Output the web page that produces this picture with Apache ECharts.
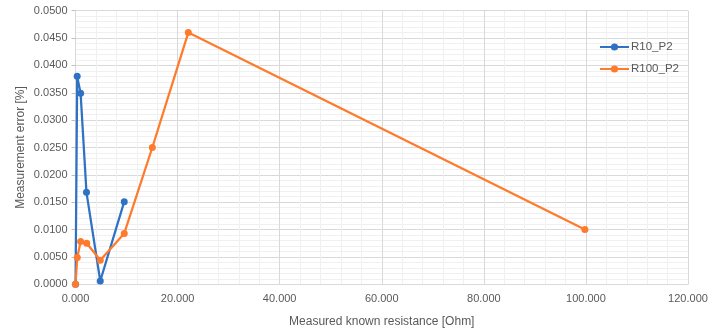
<!DOCTYPE html>
<html>
<head>
<meta charset="utf-8">
<script src="https://cdn.jsdelivr.net/npm/echarts@6/dist/echarts.min.js"></script>
<style>html,body{margin:0;padding:0;background:#fff}#c{width:715px;height:335px}</style>
</head>
<body>
<div id="c"></div>
<script>
const seriesNames = ["R10_P2", "R100_P2"];
const r10X = [10, 330, 1000, 2150, 4850, 9550];
const r10Y = [0.0000, 0.0380, 0.0349, 0.0168, 0.0006, 0.0151];
const r100X = [0, 350, 1000, 2200, 4850, 9550, 15050, 22100, 99800];
const r100Y = [0.0000, 0.0049, 0.0078, 0.0075, 0.0044, 0.0093, 0.0250, 0.0460, 0.0100];
const xAxisName = "Measured known resistance [Ohm]";
const yAxisName = "Measurement error [%]";
const xMin = 0, xMax = 120000, xStep = 20000;
const yMin = 0, yMax = 0.05, yStep = 0.005;

const colors = ["#2F72C4", "#FF7A2A"];
const txt = "#595959";
const font = "Liberation Sans";

const chart = echarts.init(document.getElementById('c'), null, {renderer: 'canvas'});
chart.setOption({
  animation: false,
  color: colors,
  textStyle: {fontFamily: font},
  grid: {left: 75.5, right: 27, top: 10.7, bottom: 50.7, containLabel: false},
  legend: {
    orient: 'vertical', left: 594, top: 36,
    itemWidth: 29, itemHeight: 9, itemGap: 10,
    textStyle: {color: txt, fontSize: 11.5, fontFamily: font, padding: [0,0,0,-3]},
    data: seriesNames
  },
  xAxis: {
    type: 'value', min: xMin, max: xMax, interval: xStep,
    name: xAxisName, nameLocation: 'middle', nameGap: 31, nameMoveOverlap: false,
    nameTextStyle: {color: txt, fontSize: 12, fontFamily: font},
    axisLine: {show: true, lineStyle: {color: '#d9d9d9'}},
    axisTick: {show: false},
    axisLabel: {color: txt, fontSize: 11, margin: 9, formatter: v => (v/1000).toFixed(3)},
    splitLine: {show: true, lineStyle: {color: '#d9d9d9', width: 1}},
    minorTick: {show: false, splitNumber: 5},
    minorSplitLine: {show: true, lineStyle: {color: '#f0f0f0', width: 1}}
  },
  yAxis: {
    type: 'value', min: yMin, max: yMax, interval: yStep,
    name: yAxisName, nameLocation: 'middle', nameGap: 49, nameMoveOverlap: false,
    nameTextStyle: {color: txt, fontSize: 12, fontFamily: font},
    axisLine: {show: true, lineStyle: {color: '#d9d9d9'}},
    axisTick: {show: true, length: 4, lineStyle: {color: '#bfbfbf'}},
    axisLabel: {color: txt, fontSize: 11, margin: 8, formatter: v => v.toFixed(4)},
    splitLine: {show: true, lineStyle: {color: '#d9d9d9', width: 1}},
    minorTick: {show: false, splitNumber: 5},
    minorSplitLine: {show: true, lineStyle: {color: '#f0f0f0', width: 1}}
  },
  series: [
    {name: seriesNames[0], type: 'line', data: r10X.map((x,i)=>[x, r10Y[i]]),
     symbol: 'circle', symbolSize: 7, lineStyle: {width: 2.25}, itemStyle: {color: colors[0]}},
    {name: seriesNames[1], type: 'line', data: r100X.map((x,i)=>[x, r100Y[i]]),
     symbol: 'circle', symbolSize: 7, lineStyle: {width: 2.25}, itemStyle: {color: colors[1]}}
  ]
});
</script>
</body>
</html>
